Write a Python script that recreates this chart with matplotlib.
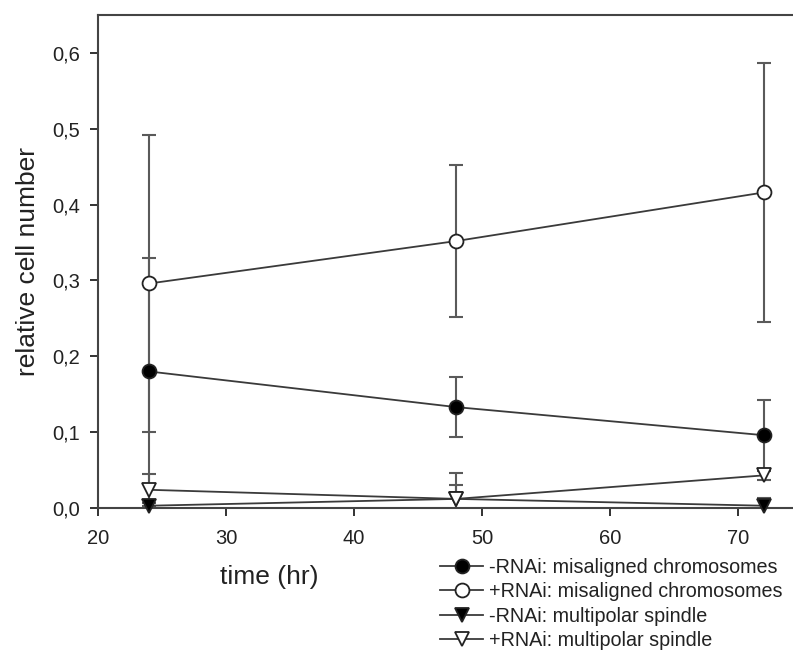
import matplotlib
matplotlib.use("Agg")
import matplotlib.pyplot as plt
from matplotlib.ticker import FuncFormatter

plt.rcParams['font.family'] = ['Liberation Sans', 'DejaVu Sans']

time = [24, 48, 72]
neg_mis = [0.180, 0.133, 0.096]
neg_mis_err = [0.149, 0.040, 0.046]
pos_mis = [0.296, 0.352, 0.416]
pos_mis_err = [0.196, 0.100, 0.171]
neg_mp = [0.003, 0.012, 0.003]
neg_mp_err = [0.004, 0.018, 0.010]
pos_mp = [0.024, 0.012, 0.043]
pos_mp_err = [0.021, 0.034, 0.006]

labels = ["-RNAi: misaligned chromosomes", "+RNAi: misaligned chromosomes",
          "-RNAi: multipolar spindle", "+RNAi: multipolar spindle"]

fig = plt.figure(figsize=(7.93, 6.53), dpi=100)
ax = fig.add_axes([98/793, 1-508/653, 1-98/793, (508-15)/653])

lc = '#3a3a3a'
ec = '#5a5a5a'
series = [
    (neg_mis, neg_mis_err, 'o', 'black'),
    (pos_mis, pos_mis_err, 'o', 'white'),
    (neg_mp, neg_mp_err, 'v', 'black'),
    (pos_mp, pos_mp_err, 'v', 'white'),
]
handles = []
for (y, e, m, fc), lab in zip(series, labels):
    ax.errorbar(time, y, yerr=e, fmt='none', ecolor=ec, elinewidth=1.5,
                capsize=5, capthick=1.5, zorder=2)
    h, = ax.plot(time, y, color=lc, lw=1.3, marker=m, markersize=10,
                 markerfacecolor=fc, markeredgecolor='#222222',
                 markeredgewidth=1.3, label=lab, zorder=3, clip_on=False)
    handles.append(h)

ax.set_xlim(20, 74.3)
ax.set_ylim(0, 0.65)
ax.set_xticks([20, 30, 40, 50, 60, 70])
ax.set_yticks([0, 0.1, 0.2, 0.3, 0.4, 0.5, 0.6])
ax.yaxis.set_major_formatter(FuncFormatter(lambda v, p: f"{v:.1f}".replace('.', ',')))
ax.tick_params(direction='out', length=6, width=1.3, labelsize=14.5, colors='#222222')
ax.tick_params(axis='x', pad=9)
ax.tick_params(axis='y', pad=7)
for s in ['left', 'bottom', 'top']:
    ax.spines[s].set_linewidth(1.5)
    ax.spines[s].set_color('#444444')
ax.spines['right'].set_visible(False)

ax.set_xlabel("time (hr)", fontsize=19, color='#222222')
ax.xaxis.set_label_coords(0.247, -0.14)
ax.xaxis.label.set_va('center')
ax.set_ylabel("relative cell number", fontsize=19, color='#222222')
ax.yaxis.set_label_coords(-0.1, 0.5)
ax.yaxis.label.set_va('center')

fig.legend(handles=handles, labels=labels, loc='upper left',
           bbox_to_anchor=(440/793, 1-558/653), frameon=False, fontsize=14.2,
           handlelength=2.2, handletextpad=0.3, labelspacing=0.27,
           borderpad=0, borderaxespad=0, labelcolor='#222222')

fig.savefig("out.png", dpi=100)
